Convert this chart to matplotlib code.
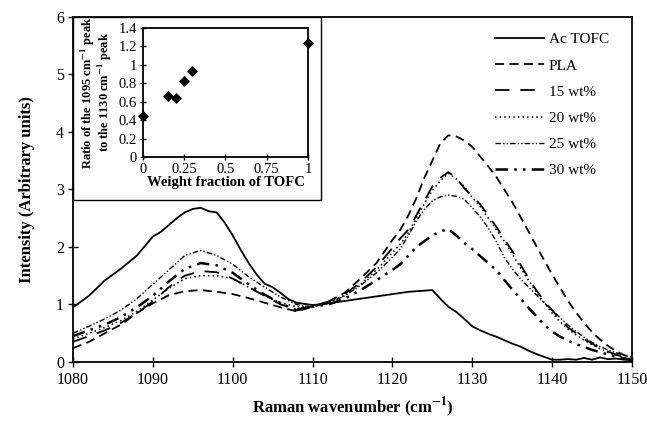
import matplotlib
matplotlib.use("Agg")
import matplotlib.pyplot as plt
from matplotlib.patches import Rectangle

plt.rcParams['font.family'] = ['Liberation Serif', 'DejaVu Serif']
plt.rcParams['mathtext.fontset'] = 'stix'

# ---------------- data ----------------
ac_x = [1080, 1082, 1084, 1086, 1088, 1090, 1091, 1092, 1093, 1094, 1095, 1096, 1097, 1098,
        1099, 1100, 1101, 1102, 1103, 1104, 1105, 1106, 1107, 1108, 1110, 1112, 1114, 1116,
        1118, 1120, 1122, 1124, 1125, 1126, 1127, 1128, 1129, 1130, 1131, 1132, 1133, 1134,
        1135, 1136, 1137, 1138, 1139, 1140, 1141, 1142, 1143, 1144, 1145, 1146, 1147, 1148,
        1149, 1150]
ac_y = [0.95, 1.15, 1.42, 1.62, 1.85, 2.18, 2.26, 2.38, 2.5, 2.6, 2.66, 2.68, 2.62, 2.6,
        2.42, 2.2, 1.95, 1.72, 1.52, 1.36, 1.3, 1.2, 1.09, 1.03, 0.99, 1.02, 1.06, 1.1,
        1.14, 1.18, 1.22, 1.24, 1.25, 1.1, 0.96, 0.87, 0.75, 0.62, 0.55, 0.49, 0.44, 0.38,
        0.32, 0.27, 0.2, 0.14, 0.09, 0.04, 0.04, 0.05, 0.04, 0.07, 0.04, 0.08, 0.05, 0.06,
        0.04, 0.03]

blend_x = [1080, 1082, 1084, 1086, 1088, 1090, 1092, 1094, 1096, 1098, 1100, 1102, 1104,
           1106, 1108, 1110, 1112, 1114, 1116, 1118, 1120, 1121, 1122, 1123, 1124, 1125,
           1126, 1127, 1128, 1129, 1130, 1131, 1132, 1133, 1134, 1135, 1136, 1137, 1138,
           1139, 1140, 1141, 1142, 1143, 1144, 1145, 1146, 1147, 1148, 1149, 1150]
pla_y = [0.24, 0.35, 0.5, 0.65, 0.85, 1.02, 1.16, 1.23, 1.25, 1.22, 1.18, 1.11, 1.03,
         0.95, 0.88, 0.96, 1.05, 1.2, 1.45, 1.72, 2.12, 2.3, 2.55, 2.85, 3.2, 3.5,
         3.8, 3.94, 3.92, 3.85, 3.74, 3.57, 3.4, 3.22, 3.0, 2.78, 2.53, 2.28, 2.02,
         1.77, 1.52, 1.29, 1.06, 0.86, 0.68, 0.52, 0.39, 0.28, 0.19, 0.12, 0.07]
w15_y = [0.35, 0.45, 0.55, 0.68, 0.85, 1.05, 1.3, 1.5, 1.58, 1.56, 1.45, 1.3, 1.15,
         1.0, 0.92, 0.97, 1.05, 1.18, 1.38, 1.65, 1.98, 2.15, 2.3, 2.55, 2.8, 3.05,
         3.2, 3.3, 3.2, 3.02, 2.88, 2.74, 2.55, 2.35, 2.14, 1.93, 1.7, 1.47, 1.25,
         1.06, 0.9, 0.74, 0.6, 0.5, 0.4, 0.32, 0.24, 0.18, 0.13, 0.08, 0.05]
w20_y = [0.4, 0.5, 0.6, 0.72, 0.88, 1.08, 1.28, 1.45, 1.5, 1.5, 1.45, 1.3, 1.15,
         1.03, 0.96, 0.97, 1.04, 1.16, 1.35, 1.6, 1.9, 2.05, 2.25, 2.5, 2.75, 2.98,
         3.15, 3.28, 3.18, 3.05, 2.86, 2.7, 2.5, 2.3, 2.1, 1.88, 1.65, 1.43, 1.22,
         1.03, 0.85, 0.7, 0.57, 0.47, 0.38, 0.3, 0.23, 0.17, 0.12, 0.08, 0.05]
w25_y = [0.5, 0.62, 0.75, 0.9, 1.1, 1.35, 1.6, 1.85, 1.94, 1.85, 1.7, 1.48, 1.3,
         1.13, 1.0, 0.95, 1.02, 1.15, 1.33, 1.55, 1.82, 1.97, 2.2, 2.45, 2.65, 2.8,
         2.87, 2.9, 2.88, 2.83, 2.68, 2.52, 2.33, 2.1, 1.82, 1.62, 1.45, 1.31, 1.17,
         1.03, 0.9, 0.77, 0.64, 0.53, 0.43, 0.34, 0.27, 0.21, 0.16, 0.12, 0.08]
w30_y = [0.45, 0.55, 0.65, 0.78, 0.95, 1.15, 1.4, 1.62, 1.72, 1.68, 1.55, 1.35, 1.17,
         1.02, 0.9, 0.96, 1.0, 1.1, 1.25, 1.42, 1.6, 1.7, 1.85, 2.0, 2.1, 2.2,
         2.27, 2.31, 2.2, 2.07, 1.96, 1.84, 1.72, 1.6, 1.43, 1.26, 1.11, 0.95, 0.8,
         0.65, 0.53, 0.44, 0.37, 0.31, 0.26, 0.21, 0.17, 0.13, 0.09, 0.06, 0.04]

labels = ["Ac TOFC", "PLA", "15 wt%", "20 wt%", "25 wt%", "30 wt%"]

inset_x = [0, 0.15, 0.2, 0.25, 0.3, 1.0]
inset_y = [0.45, 0.665, 0.64, 0.82, 0.935, 1.235]

x_ticks = [1080, 1090, 1100, 1110, 1120, 1130, 1140, 1150]
y_ticks = [0, 1, 2, 3, 4, 5, 6]
inset_xticks = [0, 0.25, 0.5, 0.75, 1]
inset_xticklabels = ["0", "0.25", "0.5", "0.75", "1"]
inset_yticks = [0, 0.2, 0.4, 0.6, 0.8, 1.0, 1.2, 1.4]
inset_yticklabels = ["0", "0.2", "0.4", "0.6", "0.8", "1", "1.2", "1.4"]

# ---------------- figure ----------------
fig = plt.figure(figsize=(6.47, 4.22), dpi=100)
ax = fig.add_axes([0.1128, 0.1422, 0.864, 0.818])

ax.plot(ac_x, ac_y, color='black', lw=1.3, ls='-', label=labels[0])
ax.plot(blend_x, pla_y, color='black', lw=1.3, ls=(0, (5, 3)), label=labels[1])
ax.plot(blend_x, w15_y, color='black', lw=1.3, ls=(0, (8, 6)), label=labels[2])
ax.plot(blend_x, w20_y, color='black', lw=1.1, ls=(0, (1, 2)), label=labels[3])
ax.plot(blend_x, w25_y, color='black', lw=1.0, ls=(0, (4, 1.5, 1, 1.5, 1, 1.5)), label=labels[4])
ax.plot(blend_x, w30_y, color='black', lw=1.8, ls=(0, (5, 2.5, 1, 2.5, 1, 2.5)), label=labels[5])

ax.set_xlim(1080, 1150)
ax.set_ylim(0, 6)
ax.set_xticks(x_ticks)
ax.set_yticks(y_ticks)
ax.tick_params(direction='inout', length=7, width=1, labelsize=11.5)
ax.tick_params(axis='x', pad=3.5)
ax.tick_params(axis='y', pad=3)
for s in ax.spines.values():
    s.set_linewidth(1.3)
ax.set_xlabel("Raman wavenumber (cm$^{\\mathbf{-1}}$)", fontsize=12, fontweight='bold', labelpad=5)
ax.set_ylabel("Intensity (Arbitrary units)", fontsize=12, fontweight='bold', labelpad=15)

leg = ax.legend(loc='upper right', bbox_to_anchor=(0.978, 0.985), frameon=False, fontsize=11,
                handlelength=3.2, handletextpad=0.3, labelspacing=0.82, borderaxespad=0.3)

# white inset box
ax.add_patch(Rectangle((0, 0.469), 0.4437, 0.531, transform=ax.transAxes, facecolor='white',
                       edgecolor='black', lw=1.0, zorder=5))

ins = fig.add_axes([0.221, 0.628, 0.255, 0.3056])
ins.set_zorder(10)
ins.scatter(inset_x, inset_y, marker='D', s=22, color='black', zorder=3, clip_on=False)
ins.set_xlim(0, 1)
ins.set_ylim(0, 1.4)
ins.set_xticks(inset_xticks)
ins.set_xticklabels(inset_xticklabels)
ins.set_yticks(inset_yticks)
ins.set_yticklabels(inset_yticklabels)
ins.tick_params(direction='inout', length=5, width=1, labelsize=10.5, pad=2)
for s in ins.spines.values():
    s.set_linewidth(1.3)
ins.set_xlabel("Weight fraction of TOFC", fontsize=10.5, fontweight='bold', labelpad=0)
ins.set_ylabel("Ratio of the 1095 cm$^{\\mathbf{-1}}$ peak\nto the 1130 cm$^{\\mathbf{-1}}$ peak",
               fontsize=9, fontweight='bold', labelpad=3, linespacing=0.95)

fig.savefig("out.png", dpi=100)
